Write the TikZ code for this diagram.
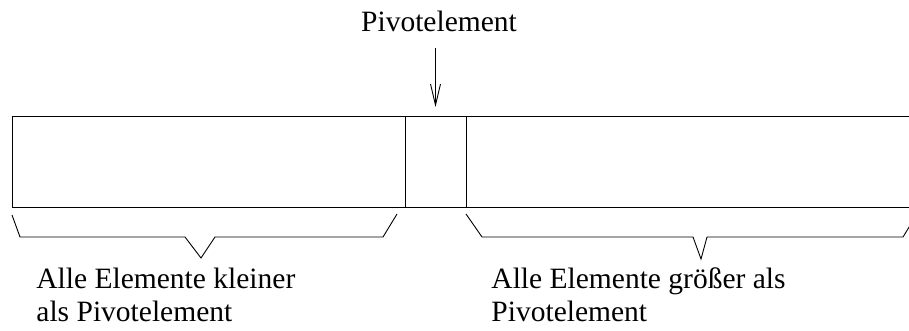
\documentclass[tikz,border=0pt]{standalone}
\usepackage{fontspec}
\setmainfont{Liberation Serif}
\usetikzlibrary{arrows.meta}

\begin{document}
\begin{tikzpicture}[
    x=1pt, y=-1pt,
    >={Straight Barb[length=21pt, width=10pt]},
    line width=0.9pt,
    font=\fontsize{29.5}{33}\selectfont,
    feld/.style    = {rectangle, draw, anchor=north west, minimum height=91pt,
                      inner sep=0pt, outer sep=0pt},
    beschr/.style  = {align=left, inner sep=0pt, anchor=base west},
    klammer/.style = {draw, line join=miter}
]

% Bildausschnitt
\clip (0,0) rectangle (909,331);

% ARRAY
\node[feld, minimum width=393pt] (links)  at (12,116)  {};
\node[feld, minimum width=61pt]  (pivot)  at (405,116) {};
\node[feld, minimum width=480pt] (rechts) at (466,116) {};

% Pivotelement oben mit Pfeil
\node[anchor=base, inner sep=0pt] (pivlabel) at (439,32) {Pivotelement};
\draw[->] ([yshift=68pt]pivot.north) -- ([yshift=9pt]pivot.north);

% KLAMMERN
\draw[klammer] (12,215) -- (20,237) -- (185,237) -- (201,258)
               -- (215,237) -- (383,237) -- (397,214);
\draw[klammer] (466,214) -- (482,237) -- (693,237) -- (701,259)
               -- (707,237) -- (903,237) -- (917,214);

% Beschriftungen (Anker = Grundlinie der letzten Zeile)
\node[beschr] (klein) at (36,321)  {Alle Elemente kleiner\\als Pivotelement};
\node[beschr] (gross) at (491,321) {Alle Elemente größer als\\Pivotelement};

\end{tikzpicture}
\end{document}
